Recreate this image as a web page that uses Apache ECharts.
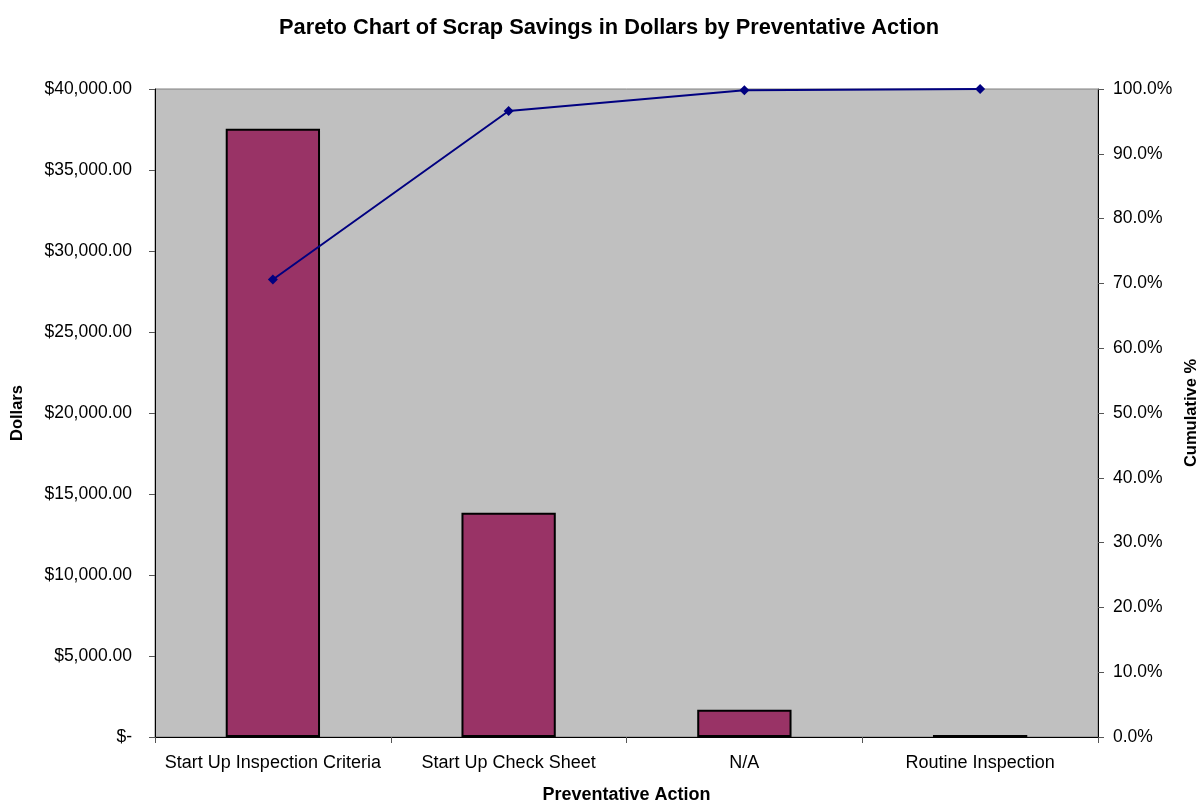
<!DOCTYPE html>
<html>
<head>
<meta charset="utf-8">
<script src="https://cdn.jsdelivr.net/npm/echarts@6/dist/echarts.min.js"></script>
<style>
  html, body { margin: 0; padding: 0; background: #ffffff; }
  #chart { width: 1200px; height: 802px; }
</style>
</head>
<body>
<div id="chart"></div>
<script>
// Preventative actions, sorted by savings (Pareto order)
const categories = ['Start Up Inspection Criteria', 'Start Up Check Sheet', 'N/A', 'Routine Inspection'];
// Scrap savings in dollars per action
const savings = [37550, 13850, 1680, 130];
// Cumulative share of total savings, percent
const cumulativePct = [70.6, 96.6, 99.8, 100.0];

const FONT = '"Liberation Sans", Arial, sans-serif';

function dollarLabel(v) {
  if (v === 0) return '$-';
  return '$' + v.toLocaleString('en-US', { minimumFractionDigits: 2, maximumFractionDigits: 2 });
}

const chart = echarts.init(document.getElementById('chart'), null, { renderer: 'canvas' });

chart.setOption({
  animation: false,
  backgroundColor: '#ffffff',
  textStyle: { fontFamily: FONT },
  title: {
    text: 'Pareto Chart of Scrap Savings in Dollars by Preventative Action',
    left: 274,
    top: 12,
    textStyle: { fontFamily: FONT, fontSize: 21.8, fontWeight: 'bold', color: '#000' }
  },
  grid: {
    left: 155, right: 102, top: 89, bottom: 65,
    outerBoundsMode: 'none',
    containLabel: false,
    show: true,
    backgroundColor: '#C0C0C0',
    borderColor: '#808080',
    borderWidth: 1
  },
  xAxis: {
    type: 'category',
    data: categories,
    name: 'Preventative Action',
    nameLocation: 'middle',
    nameGap: 49,
    nameTextStyle: { fontFamily: FONT, fontSize: 18, fontWeight: 'bold', color: '#000' },
    axisLine: { lineStyle: { color: '#000', width: 1 } },
    axisTick: { show: true, alignWithLabel: false, length: 6, lineStyle: { color: '#555' } },
    axisLabel: { fontFamily: FONT, fontSize: 18, color: '#000', margin: 17, interval: 0 }
  },
  yAxis: [
    {
      type: 'value',
      min: 0, max: 40000, interval: 5000,
      name: 'Dollars',
      nameLocation: 'middle',
      nameRotate: 90,
      nameGap: 129,
      nameTextStyle: { fontFamily: FONT, fontSize: 16.5, fontWeight: 'bold', color: '#000' },
      axisLine: { show: true, lineStyle: { color: '#000', width: 1 } },
      axisTick: { show: true, length: 6, lineStyle: { color: '#555' } },
      splitLine: { show: false },
      axisLabel: { fontFamily: FONT, fontSize: 17.5, color: '#000', margin: 23, formatter: dollarLabel,
                   padding: [3, 0, 0, 0] }
    },
    {
      type: 'value',
      min: 0, max: 100, interval: 10,
      name: 'Cumulative %',
      nameLocation: 'middle',
      nameRotate: 90,
      nameGap: 83,
      nameTextStyle: { fontFamily: FONT, fontSize: 16.5, fontWeight: 'bold', color: '#000' },
      position: 'right',
      axisLine: { show: true, lineStyle: { color: '#000', width: 1 } },
      axisTick: { show: true, length: 6, lineStyle: { color: '#555' } },
      splitLine: { show: false },
      axisLabel: { fontFamily: FONT, fontSize: 17.5, color: '#000', margin: 15,
                   padding: [3, 0, 0, 0],
                   formatter: v => v.toFixed(1) + '%' }
    }
  ],
  series: [
    {
      name: 'Dollars',
      type: 'bar',
      data: savings,
      barWidth: '40%',
      itemStyle: { color: '#993366', borderColor: '#000', borderWidth: 2 }
    },
    {
      name: 'Cumulative %',
      type: 'line',
      yAxisIndex: 1,
      data: cumulativePct,
      symbol: 'diamond',
      symbolSize: 10,
      lineStyle: { color: '#000080', width: 2 },
      itemStyle: { color: '#000080' }
    }
  ]
});
</script>
</body>
</html>
